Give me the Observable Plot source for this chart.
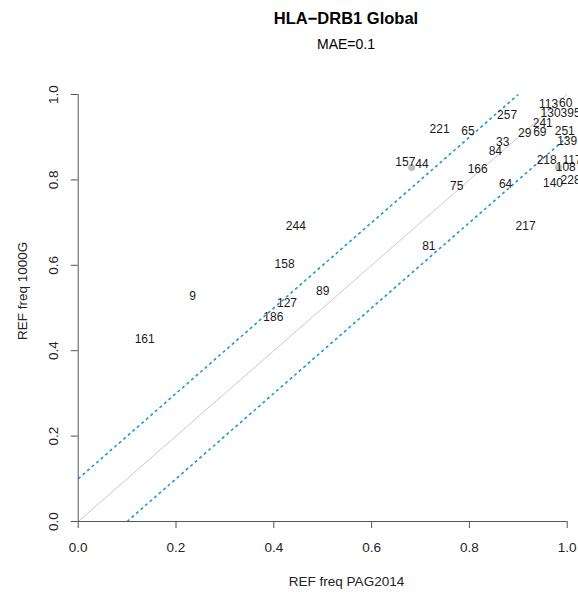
<!DOCTYPE html>
<html><head><meta charset="utf-8">
<script src="https://cdn.jsdelivr.net/npm/d3@7"></script>
<script src="https://cdn.jsdelivr.net/npm/@observablehq/plot@0.6"></script>
<style>
html,body{margin:0;padding:0;overflow:hidden;background:#fff;}
#wrap{position:relative;width:578px;height:592px;overflow:hidden;font-family:"Liberation Sans",Arial,sans-serif;color:#000;}
#title{position:absolute;left:346px;top:9px;transform:translateX(-50%);font-weight:bold;font-size:16.5px;line-height:18px;white-space:nowrap;}
#subtitle{position:absolute;left:346px;top:36px;transform:translateX(-50%);font-size:14px;line-height:16px;white-space:nowrap;}
#chart{position:absolute;left:0;top:60px;}
</style></head>
<body><div id="wrap"><div id="title"></div><div id="subtitle"></div><div id="chart"></div></div>
<script>
const titleText = "HLA\u2212DRB1 Global";
const subtitleText = "MAE=0.1";
const xTitle = "REF freq PAG2014";
const yTitle = "REF freq 1000G";

const labels  = ["161","9","186","127","158","244","89","81","217","157","44","221","65","75","166","84","33","64","257","29","69","241","218","140","113","60","130","395","251","139","117","108","228"];
const pag2014 = [0.136,0.234,0.399,0.427,0.422,0.445,0.500,0.717,0.915,0.669,0.703,0.739,0.797,0.774,0.817,0.853,0.868,0.874,0.877,0.913,0.944,0.950,0.958,0.971,0.962,0.997,0.966,1.007,0.995,1.000,1.010,0.997,1.007];
const kg1000  = [0.428,0.527,0.479,0.511,0.602,0.691,0.539,0.644,0.691,0.842,0.838,0.920,0.913,0.785,0.826,0.867,0.888,0.789,0.952,0.910,0.912,0.933,0.847,0.792,0.977,0.979,0.957,0.957,0.914,0.891,0.847,0.830,0.799];

const dotX = [0.682, 0.982];
const dotY = [0.829, 0.829];

const lineOffsets = [0, 0.1, -0.1];
const xTicks = [0, 0.2, 0.4, 0.6, 0.8, 1.0];
const yTicks = [0, 0.2, 0.4, 0.6, 0.8, 1.0];

document.getElementById("title").textContent = titleText;
document.getElementById("subtitle").textContent = subtitleText;

const fmt = d3.format(".1f");
const rows = labels.map((l, i) => ({label: l, x: pag2014[i], y: kg1000[i]}));
const dots = dotX.map((x, i) => ({x, y: dotY[i]}));
const lines = lineOffsets.map(o => ({o, x1: Math.max(0, -o), y1: Math.max(0, o), x2: Math.min(1, 1 - o), y2: Math.min(1, 1 + o)}));
const font = "Liberation Sans, Arial, sans-serif";

const chart = Plot.plot({
  width: 578, height: 532,
  marginLeft: 77.7, marginRight: 11.3, marginTop: 34, marginBottom: 71,
  x: {domain: [0, 1], range: [77.7, 566.7], axis: null},
  y: {domain: [0, 1], range: [461, 34], axis: null},
  style: {fontFamily: font, background: "#fff", overflow: "hidden", maxWidth: "none"},
  marks: [
    Plot.link(lines.filter(d => d.o === 0), {x1: "x1", y1: "y1", x2: "x2", y2: "y2", stroke: "#c8c8c8", strokeWidth: 1}),
    Plot.link(lines.filter(d => d.o !== 0), {x1: "x1", y1: "y1", x2: "x2", y2: "y2", stroke: "#1e96d8", strokeWidth: 1.6, strokeDasharray: "3,3"}),
    Plot.dot(dots, {x: "x", y: "y", r: 3.5, fill: "#bdbdbd", stroke: "none"}),
    Plot.text(rows, {x: "x", y: "y", text: "label", fontSize: 12, fill: "#1a1a1a"}),
    Plot.ruleY([0], {x1: 0, x2: 1, stroke: "#555"}),
    Plot.ruleX([0], {y1: 0, y2: 1, stroke: "#555"}),
    Plot.axisX({ticks: xTicks, tickSize: 7, tickFormat: () => "", stroke: "#555", label: null}),
    Plot.axisY({ticks: yTicks, tickSize: 7, tickFormat: () => "", stroke: "#555", label: null}),
    Plot.text(xTicks, {x: d => d, frameAnchor: "bottom", dy: 26, text: d => fmt(d), fontSize: 13.5, fill: "#222", lineAnchor: "middle"}),
    Plot.text(yTicks, {y: d => d, frameAnchor: "left", dx: -24.7, rotate: -90, text: d => fmt(d), fontSize: 13.5, fill: "#222", textAnchor: "middle", lineAnchor: "middle"}),
    Plot.text([xTitle], {x: () => 0.5487, frameAnchor: "bottom", dy: 60, text: d => d, fontSize: 13.5, fill: "#222", lineAnchor: "middle"}),
    Plot.text([yTitle], {y: () => 0.54, frameAnchor: "left", dx: -56, rotate: -90, text: d => d, fontSize: 13.5, fill: "#222", textAnchor: "middle", lineAnchor: "middle"})
  ]
});
document.getElementById("chart").appendChild(chart);
</script>
</body></html>
